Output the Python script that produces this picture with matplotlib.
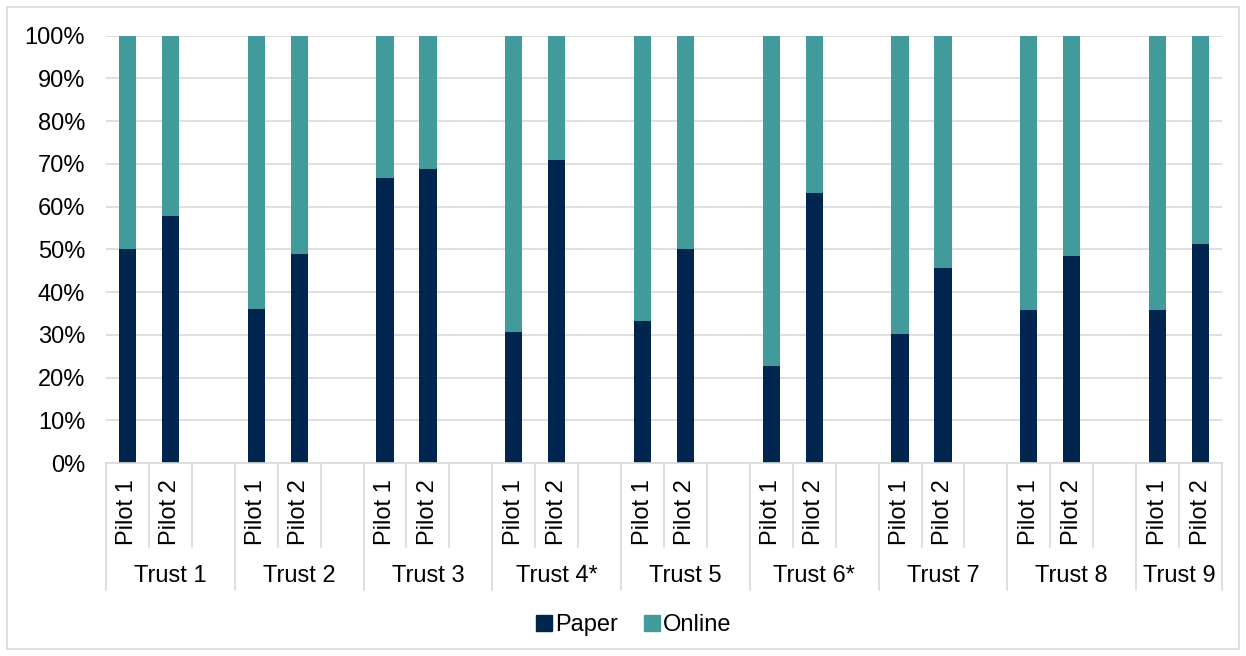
import matplotlib.pyplot as plt
from matplotlib.patches import Rectangle, Patch
import matplotlib.transforms as mtransforms

trusts = ["Trust 1", "Trust 2", "Trust 3", "Trust 4*", "Trust 5",
          "Trust 6*", "Trust 7", "Trust 8", "Trust 9"]
pilots = ["Pilot 1", "Pilot 2"]
paper_p1 = [50.0, 36.1, 66.7, 30.7, 33.3, 22.6, 30.2, 35.8, 35.8]
paper_p2 = [57.7, 48.8, 68.9, 71.0, 50.0, 63.1, 45.7, 48.5, 51.3]

PAPER = "#00264F"
ONLINE = "#439A9A"
GRID = "#D9D9D9"
FS = 17

plt.rcParams["font.family"] = ["Liberation Sans", "DejaVu Sans"]

W, H = 1246, 656
fig = plt.figure(figsize=(W / 100, H / 100), dpi=100)
x0, x1, y0, y1 = 106, 1222, 463, 35.7
ax = fig.add_axes([x0 / W, 1 - y0 / H, (x1 - x0) / W, (y0 - y1) / H])

# slot positions: three slots per trust, last trust only two
n_slots = 3 * (len(trusts) - 1) + 2
pos1 = [3 * g for g in range(len(trusts))]
pos2 = [3 * g + 1 for g in range(len(trusts))]

online_p1 = [100 - v for v in paper_p1]
online_p2 = [100 - v for v in paper_p2]
bw = 0.4
ax.bar(pos1, paper_p1, bw, color=PAPER, zorder=3)
ax.bar(pos1, online_p1, bw, bottom=paper_p1, color=ONLINE, zorder=3)
ax.bar(pos2, paper_p2, bw, color=PAPER, zorder=3)
ax.bar(pos2, online_p2, bw, bottom=paper_p2, color=ONLINE, zorder=3)

ax.set_xlim(-0.5, n_slots - 0.5)
ax.set_ylim(0, 100)
ax.set_yticks(range(0, 101, 10))
ax.set_yticklabels([f"{v}%" for v in range(0, 101, 10)], fontsize=FS)
ax.tick_params(axis="y", length=0, pad=15)
ax.set_xticks([])
ax.grid(axis="y", color=GRID, lw=1.2, zorder=0)
for s in ["left", "right", "top"]:
    ax.spines[s].set_visible(False)
ax.spines["bottom"].set_color(GRID)
ax.spines["bottom"].set_linewidth(1.2)
ax.spines["bottom"].set_zorder(4)

# multi-level category axis
tr = mtransforms.blended_transform_factory(ax.transData, ax.transAxes)
ax_h = y0 - y1
pilot_bottom = -(547 - y0) / ax_h
group_bottom = -(590 - y0) / ax_h
for k in range(n_slots + 1):
    xb = k - 0.5
    bottom = group_bottom if (k % 3 == 0 or k == n_slots) else pilot_bottom
    ax.plot([xb, xb], [0, bottom], color=GRID, lw=1.2, transform=tr, clip_on=False)

pilot_y = -(512 - y0) / ax_h
trust_y = -(576 - y0) / ax_h
for g, name in enumerate(trusts):
    for j, p in enumerate(pilots):
        ax.text(3 * g + j, pilot_y, p, rotation=90, ha="center", va="center",
                fontsize=FS, transform=tr)
    width = 2 if g == len(trusts) - 1 else 3
    ax.text(3 * g + (width - 1) / 2, trust_y, name, ha="center", va="center",
            fontsize=FS, transform=tr)

handles = [Patch(color=PAPER, label="Paper"), Patch(color=ONLINE, label="Online")]
fig.legend(handles=handles, loc="center", bbox_to_anchor=(634 / W, 1 - 625 / H),
           ncol=2, frameon=False, fontsize=FS, handlelength=0.65, handleheight=0.65,
           handletextpad=0.15, columnspacing=1.1)

fig.patches.append(Rectangle((7 / W, 7 / H), (W - 14) / W, (H - 14) / H,
                             transform=fig.transFigure, fill=False,
                             edgecolor=GRID, lw=1.2))

fig.savefig("out.png", dpi=100)
